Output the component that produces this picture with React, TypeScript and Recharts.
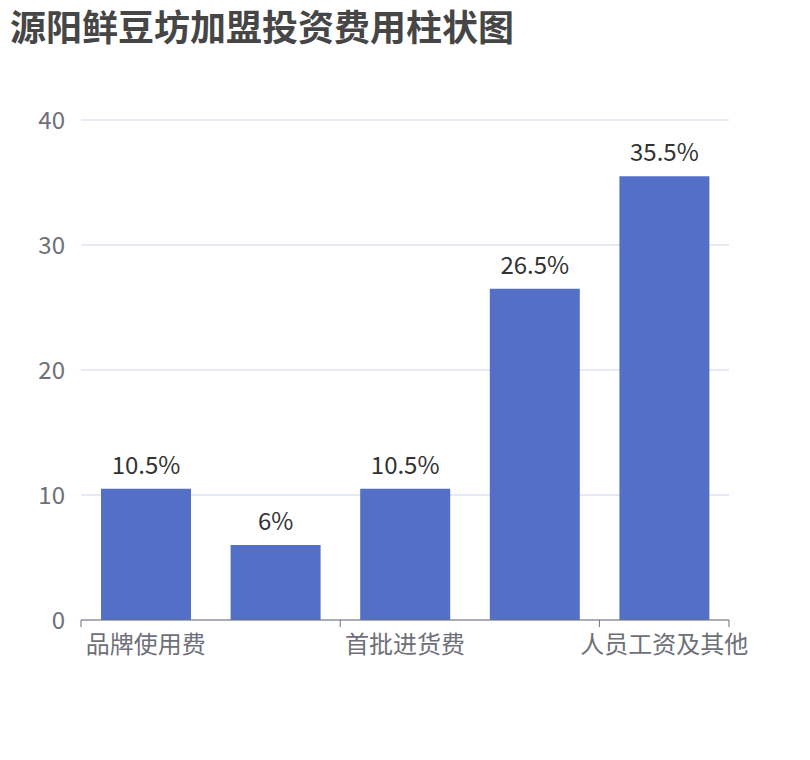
import React from "react";
import { BarChart, Bar, XAxis, YAxis, CartesianGrid, LabelList } from "recharts";

const categories = ["品牌使用费", "店面装修费", "首批进货费", "设备购置费", "人员工资及其他"];
const values = [10.5, 6, 10.5, 26.5, 35.5];
const yTicks = [0, 10, 20, 30, 40];

const data = categories.map((name, i) => ({ name, value: values[i] }));

const FONT = '"Noto Sans CJK SC", "Noto Sans", sans-serif';
const WIDTH = 794;
const HEIGHT = 720;
const PLOT_LEFT = 73;
const PLOT_RIGHT = 73;
const BAND = (WIDTH - PLOT_LEFT - PLOT_RIGHT) / categories.length;

// echarts-style category axis: only every other label, ticks on band edges
function CategoryTick(props: any) {
  const { x, y, payload } = props;
  const i = props.index ?? payload.index;
  const half = BAND / 2;
  const shown = i % 2 === 0;
  return (
    <g>
      {shown && (
        <line x1={x - half} x2={x - half} y1={y} y2={y + 7} stroke="#6e7079" />
      )}
      {i === categories.length - 1 && (
        <line x1={x + half} x2={x + half} y1={y} y2={y + 7} stroke="#6e7079" />
      )}
      {shown && (
        <text x={x} y={y + 33} textAnchor="middle" fill="#6e7079" fontSize={24} fontFamily={FONT}>
          {payload.value}
        </text>
      )}
    </g>
  );
}

export default function App() {
  return (
    <div style={{ position: "relative", width: WIDTH, height: HEIGHT, fontFamily: FONT }}>
      <div
        style={{
          position: "absolute",
          left: 2,
          top: -1,
          fontSize: 36,
          lineHeight: "36px",
          fontWeight: "bold",
          color: "#464646",
          whiteSpace: "nowrap",
        }}
      >
        源阳鲜豆坊加盟投资费用柱状图
      </div>
      <BarChart
        width={WIDTH}
        height={HEIGHT}
        data={data}
        margin={{ top: 112, right: PLOT_RIGHT, bottom: 48, left: 0 }}
      >
        <CartesianGrid vertical={false} stroke="#dde3f0" strokeWidth={1.5} />
        <XAxis
          dataKey="name"
          type="category"
          interval={0}
          height={60}
          axisLine={{ stroke: "#6e7079" }}
          tickLine={false}
          tickSize={0}
          tickMargin={0}
          tick={<CategoryTick />}
        />
        <YAxis
          type="number"
          domain={[0, 40]}
          ticks={yTicks}
          width={PLOT_LEFT}
          axisLine={false}
          tickLine={false}
          tickSize={0}
          tickMargin={16}
          tick={{ fill: "#6e7079", fontSize: 24, fontFamily: FONT }}
        />
        <Bar dataKey="value" fill="#5470c6" barSize={90} isAnimationActive={false}>
          <LabelList
            dataKey="value"
            position="top"
            offset={15}
            formatter={(v: any) => `${v}%`}
            fill="#333"
            fontSize={24}
            fontFamily={FONT}
          />
        </Bar>
      </BarChart>
    </div>
  );
}
